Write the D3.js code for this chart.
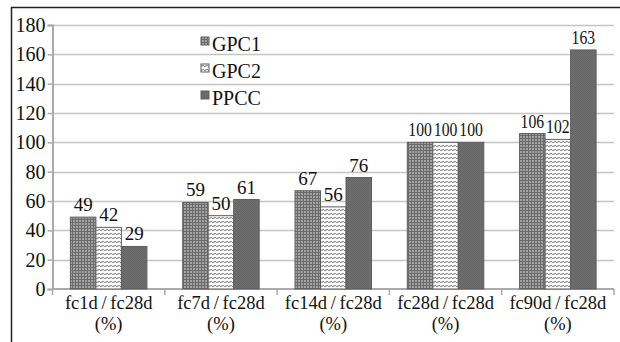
<!DOCTYPE html>
<html><head><meta charset="utf-8">
<script src="https://cdn.jsdelivr.net/npm/d3@7"></script>
<style>body{margin:0;background:#fff}svg{display:block}</style>
</head><body><svg id="c" width="620" height="342"></svg>
<script>
const categories = ["fc1d/fc28d", "fc7d/fc28d", "fc14d/fc28d", "fc28d/fc28d", "fc90d/fc28d"];
const seriesNames = ["GPC1", "GPC2", "PPCC"];
const gpc1 = [49, 59, 67, 100, 106];
const gpc2 = [42, 50, 56, 100, 102];
const ppcc = [29, 61, 76, 100, 163];
const yTicks = [0, 20, 40, 60, 80, 100, 120, 140, 160, 180];

const FONT = "'Liberation Serif', 'Times New Roman', Tinos, 'DejaVu Serif', 'Noto Serif', serif";
const svg = d3.select("#c").attr("font-family", FONT);
const defs = svg.append("defs");
const p1 = defs.append("pattern").attr("id","p1").attr("patternUnits","userSpaceOnUse").attr("width",3).attr("height",3);
p1.append("rect").attr("width",3).attr("height",3).attr("fill","#a4a4a4");
p1.append("rect").attr("width",1).attr("height",3).attr("fill","#6a6a6a");
p1.append("rect").attr("width",3).attr("height",1).attr("fill","#6a6a6a");
const p2 = defs.append("pattern").attr("id","p2").attr("patternUnits","userSpaceOnUse").attr("width",4).attr("height",4);
p2.append("rect").attr("width",4).attr("height",4).attr("fill","#fafafa");
p2.append("rect").attr("x",0).attr("y",2).attr("width",2).attr("height",1).attr("fill","#8a8a8a");
p2.append("rect").attr("x",2).attr("y",1).attr("width",2).attr("height",1).attr("fill","#8a8a8a");
p2.append("rect").attr("x",1).attr("y",1.5).attr("width",2).attr("height",1).attr("fill","#a8a8a8");
const p3 = defs.append("pattern").attr("id","p3").attr("patternUnits","userSpaceOnUse").attr("width",2).attr("height",2);
p3.append("rect").attr("width",2).attr("height",2).attr("fill","#707070");
p3.append("rect").attr("width",1).attr("height",1).attr("fill","#656565");
p3.append("rect").attr("x",1).attr("y",1).attr("width",1).attr("height",1).attr("fill","#656565");
const fills = ["url(#p1)","url(#p2)","url(#p3)"];

svg.append("line").attr("x1",11).attr("x2",620).attr("y1",7.5).attr("y2",7.5).attr("stroke","#222").attr("stroke-width",1.5);
svg.append("line").attr("x1",11.5).attr("x2",11.5).attr("y1",7).attr("y2",342).attr("stroke","#222").attr("stroke-width",1.5);

const x0 = 52.5, x1 = 614, yTop = 25, yBot = 289;
const x = d3.scaleBand().domain(categories).range([x0, x1]);
const y = d3.scaleLinear().domain([0,180]).range([yBot, yTop]);
const xs = d3.scaleBand().domain(seriesNames).range([0, 76.5]);
const pad = (x.bandwidth() - 76.5) / 2;

svg.append("g").selectAll("line").data(yTicks.filter(d=>d>0)).join("line")
  .attr("x1",x0).attr("x2",x1).attr("y1",d=>Math.round(y(d))+0.5).attr("y2",d=>Math.round(y(d))+0.5)
  .attr("stroke","#c4c4c4").attr("stroke-width",1.5);

const yAx = svg.append("g").attr("transform",`translate(${x0},0)`)
  .call(d3.axisLeft(y).tickValues(yTicks).tickSize(5).tickPadding(2));
yAx.attr("font-family", FONT).attr("font-size", 20);
yAx.select(".domain").attr("stroke","#aaa").attr("stroke-width",2);
yAx.selectAll(".tick line").attr("stroke","#aaa").attr("stroke-width",1.5);
yAx.selectAll(".tick text").attr("fill","#111").attr("font-family",FONT).attr("font-size",20);

const xAx = svg.append("g").attr("transform",`translate(0,${yBot})`);
xAx.append("line").attr("x1",x0).attr("x2",x1).attr("stroke","#aaa").attr("stroke-width",2);
const bounds = categories.map(c=>x(c)).concat([x1]);
xAx.selectAll("line.t").data(bounds).join("line").attr("class","t")
  .attr("x1",d=>d).attr("x2",d=>d).attr("y1",0).attr("y2",6).attr("stroke","#aaa").attr("stroke-width",1.5);
const cl = xAx.selectAll("text").data(categories).join("text")
  .attr("x",d=>x(d)+x.bandwidth()/2).attr("text-anchor","middle").attr("font-size",18.5)
  .attr("font-family",FONT).attr("fill","#111");
cl.append("tspan").attr("x",d=>x(d)+x.bandwidth()/2).attr("y",20).text(d=>d.replace("/","\u2009/\u2009"));
cl.append("tspan").attr("x",d=>x(d)+x.bandwidth()/2).attr("y",41).text("(%)");

const data = [gpc1, gpc2, ppcc];
seriesNames.forEach((s,i)=>{
  const g = svg.append("g");
  g.selectAll("rect").data(categories).join("rect")
    .attr("x",(c)=>x(c)+pad+xs(s)).attr("width",xs.bandwidth())
    .attr("y",(c,j)=>y(data[i][j])).attr("height",(c,j)=>yBot-y(data[i][j]))
    .attr("fill",fills[i]).attr("stroke","#5e5e5e").attr("stroke-width",1);
  g.selectAll("text").data(categories).join("text")
    .attr("x",c=>x(c)+pad+xs(s)+xs.bandwidth()/2)
    .attr("y",(c,j)=>y(data[i][j])-6).attr("text-anchor","middle")
    .attr("font-size",(c,j)=>data[i][j] >= 100 ? 18 : 19)
    .attr("font-family",FONT).attr("fill","#111")
    .text((c,j)=>data[i][j])
    .each(function(){
      const maxW = xs.bandwidth() - 2;
      if (this.getComputedTextLength() > maxW) {
        d3.select(this).attr("textLength", maxW).attr("lengthAdjust","spacingAndGlyphs");
      }
    });
});

const lg = svg.append("g");
seriesNames.forEach((s,i)=>{
  lg.append("rect").attr("x",201).attr("y",37+i*27).attr("width",8).attr("height",8)
    .attr("fill",fills[i]).attr("stroke","#5e5e5e").attr("stroke-width",1);
  lg.append("text").attr("x",212).attr("y",50.5+i*27).attr("font-size",20)
    .attr("font-family",FONT).attr("fill","#111").text(s);
});
</script></body></html>
